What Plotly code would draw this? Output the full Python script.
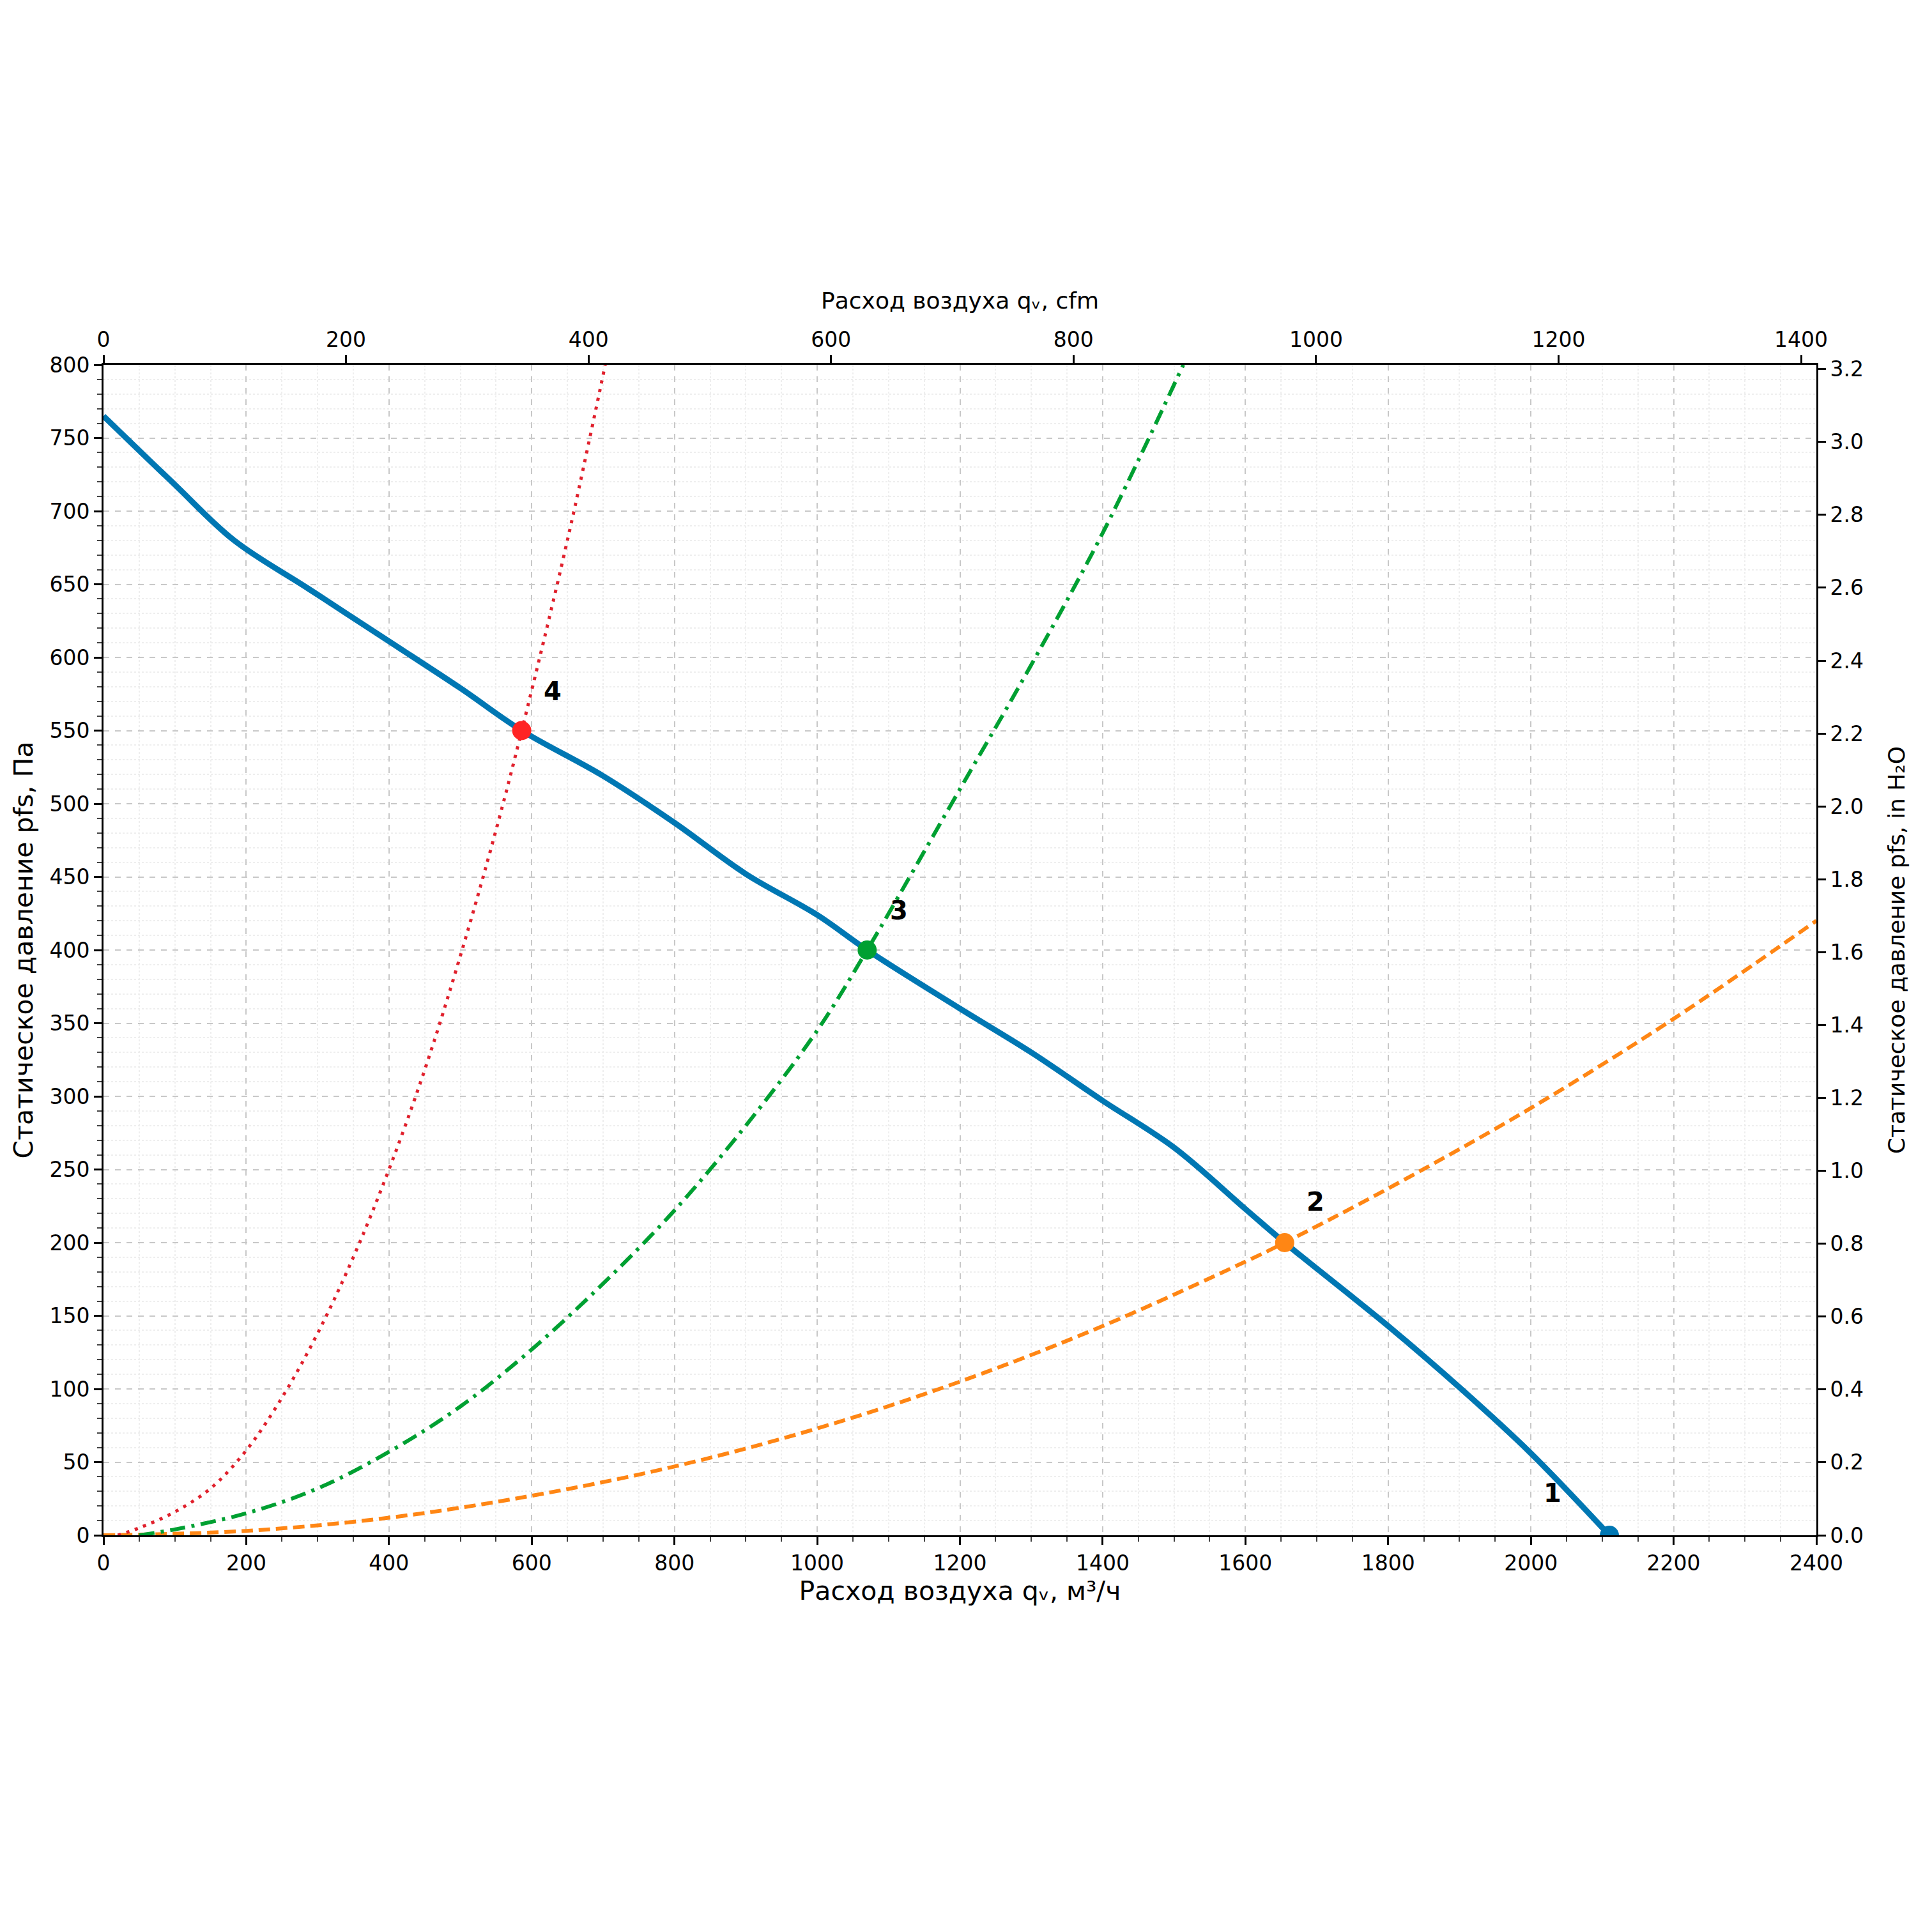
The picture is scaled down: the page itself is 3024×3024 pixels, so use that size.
import plotly.graph_objects as go

# fan curve, m3/h vs Pa
fan_q = [0, 98, 183, 287, 400, 500, 586, 700, 800, 900, 1000, 1070, 1200, 1300, 1400, 1500, 1600, 1655, 1800, 1900, 2000, 2110]
fan_p = [765, 719, 680, 647, 611, 579, 550, 519, 487, 452, 424, 400, 360, 330, 297, 265, 223, 200, 143, 101, 56, 0]

# network curves
net2_q = [0, 200, 400, 600, 800, 1000, 1200, 1400, 1600, 1655, 1800, 2000, 2200, 2400]
net2_p = [0, 3, 12, 27, 47, 73, 105, 143, 187, 200, 237, 292, 353, 420]

net3_q = [50, 100, 200, 300, 400, 500, 600, 700, 800, 900, 1000, 1070, 1200, 1300, 1400, 1513]
net3_p = [0, 4, 15, 32, 57, 88, 127, 172, 222, 280, 345, 400, 510, 595, 685, 800]

net4_q = [20, 50, 100, 150, 200, 250, 300, 350, 400, 450, 500, 550, 586, 650, 703]
net4_p = [0, 5, 16, 32, 58, 94, 138, 190, 250, 318, 396, 482, 550, 680, 800]

# working points
pt_labels = ["1", "2", "3", "4"]
pt_q = [2110, 1655, 1070, 586]
pt_p = [0, 200, 400, 550]
pt_colors = ["#0077b3", "#ff8614", "#00a032", "#ff2424"]
label_shift = [(-89, 66), (48, 64), (50, 62), (48, 62)]

Q_MAX = 2400
P_MAX = 800
CFM = 1.699  # m3/h per cfm
PA_PER_INH2O = 249.089

font = "DejaVu Sans"

fig = go.Figure()
fig.add_trace(go.Scatter(x=net2_q, y=net2_p, mode="lines", line=dict(color="#ff8614", width=6, dash="18px,9px", shape="spline"), hoverinfo="skip"))
fig.add_trace(go.Scatter(x=net3_q, y=net3_p, mode="lines", line=dict(color="#00a032", width=6, dash="24px,10px,5px,10px", shape="spline"), hoverinfo="skip"))
fig.add_trace(go.Scatter(x=net4_q, y=net4_p, mode="lines", line=dict(color="#e0202c", width=5, dash="5px,9px", shape="spline"), hoverinfo="skip"))
fig.add_trace(go.Scatter(x=fan_q, y=fan_p, mode="lines", line=dict(color="#0077b3", width=9, shape="spline", smoothing=1.0), hoverinfo="skip"))
fig.add_trace(go.Scatter(x=pt_q, y=pt_p, mode="markers", marker=dict(color=pt_colors, size=30), cliponaxis=True, hoverinfo="skip"))

for lab, q, p, (dx, dy) in zip(pt_labels, pt_q, pt_p, label_shift):
    fig.add_annotation(x=q, y=p, text=f"<b>{lab}</b>", showarrow=False, xshift=dx, yshift=dy,
                       font=dict(family=font, size=40, color="black"))

grid_major = dict(showgrid=True, gridcolor="#c8c8c8", gridwidth=2, griddash="dash")
fig.update_layout(
    width=3008,
    height=3008,
    margin=dict(l=154, r=173, t=563, b=613),
    paper_bgcolor="white",
    plot_bgcolor="white",
    showlegend=False,
    font=dict(family=font, color="black"),
    xaxis=dict(
        range=[0, Q_MAX], dtick=200, tick0=0, **grid_major,
        ticks="outside", ticklen=12, tickwidth=3, tickcolor="black",
        tickfont=dict(size=33),
        showline=True, linecolor="black", linewidth=3, zeroline=False,
        minor=dict(dtick=50, ticks="outside", ticklen=7, tickwidth=2, tickcolor="#444",
                   showgrid=True, gridcolor="#eeeeee", gridwidth=1.5, griddash="dot"),
        title=dict(text="Расход воздуха qᵥ, м³/ч", font=dict(size=41), standoff=8),
    ),
    xaxis2=dict(
        overlaying="x", side="top", range=[0, Q_MAX / CFM], dtick=200, tick0=0,
        showgrid=False, ticks="outside", ticklen=12, tickwidth=3, tickcolor="black",
        tickfont=dict(size=33), showline=True, linecolor="black", linewidth=3, zeroline=False,
        title=dict(text="Расход воздуха qᵥ, cfm", font=dict(size=36), standoff=18),
    ),
    yaxis=dict(
        range=[0, P_MAX], dtick=50, tick0=0, **grid_major,
        ticks="outside", ticklen=12, tickwidth=3, tickcolor="black",
        tickfont=dict(size=33),
        showline=True, linecolor="black", linewidth=3, zeroline=False,
        minor=dict(dtick=10, ticks="outside", ticklen=7, tickwidth=2, tickcolor="#444",
                   showgrid=True, gridcolor="#eeeeee", gridwidth=1.5, griddash="dot"),
        title=dict(text="Статическое давление pfs, Па", font=dict(size=41), standoff=14),
    ),
    yaxis2=dict(
        overlaying="y", side="right", range=[0, P_MAX / PA_PER_INH2O], dtick=0.2, tick0=0,
        tickformat=".1f", showgrid=False, ticks="outside", ticklen=12, tickwidth=3, tickcolor="black",
        tickfont=dict(size=33), showline=True, linecolor="black", linewidth=3, zeroline=False,
        title=dict(text="Статическое давление pfs, in H₂O", font=dict(size=36), standoff=40),
    ),
)
fig.add_trace(go.Scatter(x=[0, Q_MAX / CFM], y=[0, P_MAX / PA_PER_INH2O], xaxis="x2", yaxis="y2",
                         mode="markers", marker=dict(opacity=0), hoverinfo="skip"))

fig.write_html("out.html")
